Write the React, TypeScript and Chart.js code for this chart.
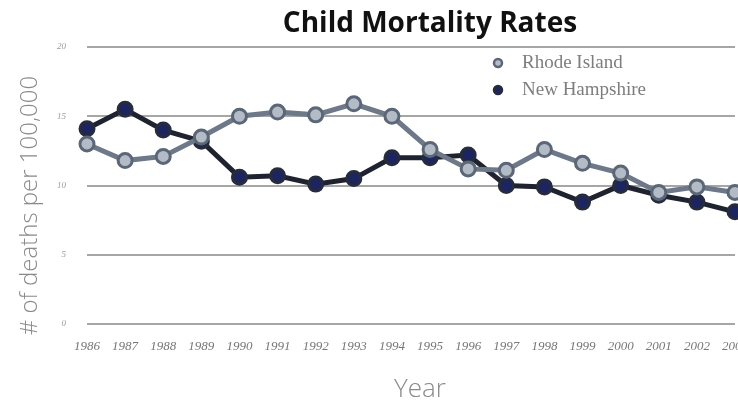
import React, { useEffect, useRef } from "react";
import { Chart, registerables } from "chart.js";

Chart.register(...registerables);

const years = ["1986", "1987", "1988", "1989", "1990", "1991", "1992", "1993", "1994", "1995", "1996", "1997", "1998", "1999", "2000", "2001", "2002", "2003"];
const rhodeIsland = [13.0, 11.8, 12.1, 13.5, 15.0, 15.3, 15.1, 15.9, 15.0, 12.6, 11.2, 11.1, 12.6, 11.6, 10.9, 9.5, 9.9, 9.5];
const newHampshire = [14.1, 15.5, 14.0, 13.2, 10.6, 10.7, 10.1, 10.5, 12.0, 12.0, 12.2, 10.0, 9.9, 8.8, 10.0, 9.3, 8.8, 8.1];
const yMin = 0;
const yMax = 20;
const yStep = 5;
const chartTitle = "Child Mortality Rates";
const yTitle = "# of deaths per 100,000";
const xTitle = "Year";

const insideLegend = {
  id: "insideLegend",
  afterDraw(chart: any) {
    const { ctx, chartArea } = chart;
    const x0 = chartArea.left + 411;
    const y0 = chartArea.top + 16;
    chart.data.datasets.forEach((ds: any, i: number) => {
      const y = y0 + i * 27;
      ctx.save();
      ctx.beginPath();
      ctx.arc(x0, y, 4, 0, Math.PI * 2);
      ctx.fillStyle = ds.pointBackgroundColor;
      ctx.fill();
      ctx.lineWidth = 2.5;
      ctx.strokeStyle = ds.pointBorderColor;
      ctx.stroke();
      ctx.font = '19px "Liberation Serif"';
      ctx.fillStyle = "#7d7d7d";
      ctx.textBaseline = "middle";
      ctx.textAlign = "left";
      ctx.fillText(ds.label, x0 + 24, y);
      ctx.restore();
    });
  },
};

const titlesPlugin = {
  id: "titlesPlugin",
  afterDraw(chart: any) {
    const { ctx, chartArea } = chart;
    ctx.save();
    // main title
    ctx.font = 'bold 28px "Open Sans"';
    ctx.fillStyle = "#111111";
    ctx.textAlign = "center";
    ctx.textBaseline = "middle";
    ctx.fillText(chartTitle, chart.width / 2, 24);
    // x axis title
    ctx.font = '300 26px "Open Sans"';
    ctx.fillStyle = "#8a8a8a";
    ctx.fillText(xTitle, (chartArea.left + chartArea.right) / 2 + 9, chartArea.bottom + 66);
    // y axis title
    ctx.translate(30, (chartArea.top + chartArea.bottom) / 2 + 20);
    ctx.rotate(-Math.PI / 2);
    ctx.font = '300 24px "Open Sans"';
    ctx.fillText(yTitle, 0, 0);
    ctx.restore();
  },
};

export default function App() {
  const canvasRef = useRef<HTMLCanvasElement | null>(null);

  useEffect(() => {
    if (!canvasRef.current) return;
    const chart = new Chart(canvasRef.current, {
      type: "line",
      data: {
        labels: years,
        datasets: [
          {
            label: "Rhode Island",
            data: rhodeIsland,
            borderColor: "#6d7888",
            borderWidth: 5,
            pointBackgroundColor: "#b3bbc7",
            pointBorderColor: "#5b6676",
            pointBorderWidth: 3,
            pointRadius: 7,
            tension: 0,
          },
          {
            label: "New Hampshire",
            data: newHampshire,
            borderColor: "#1f2330",
            borderWidth: 5,
            pointBackgroundColor: "#1c2560",
            pointBorderColor: "#262c3c",
            pointBorderWidth: 3,
            pointRadius: 7,
            tension: 0,
          },
        ],
      },
      options: {
        responsive: false,
        animation: false,
        layout: { padding: { left: 0, right: 125, top: 47, bottom: 0 } },
        plugins: {
          legend: { display: false },
          tooltip: { enabled: false },
          title: { display: false },
        },
        scales: {
          x: {
            offset: false,
            grid: { display: false, drawTicks: false },
            border: { display: false },
            ticks: {
              color: "#777777",
              font: { family: "Liberation Serif", size: 13, style: "italic" },
              padding: 15,
              maxRotation: 0,
              autoSkip: false,
            },
            afterFit(scale: any) {
              scale.height = 81;
            },
          },
          y: {
            min: yMin,
            max: yMax,
            grid: { color: "#a6a6a6", lineWidth: 2, drawTicks: false },
            border: { display: false },
            ticks: {
              stepSize: yStep,
              color: "#9a9a9a",
              font: { family: "Liberation Serif", size: 9, style: "italic" },
              padding: 21,
            },
            afterFit(scale: any) {
              scale.width = 87;
            },
          },
        },
      },
      plugins: [insideLegend, titlesPlugin],
    });
    return () => chart.destroy();
  }, []);

  return (
    <div
      style={{
        position: "fixed",
        left: 0,
        top: 0,
        width: 738,
        height: 405,
        overflow: "hidden",
        background: "#ffffff",
      }}
    >
      <canvas ref={canvasRef} width={860} height={405} style={{ display: "block" }} />
    </div>
  );
}
